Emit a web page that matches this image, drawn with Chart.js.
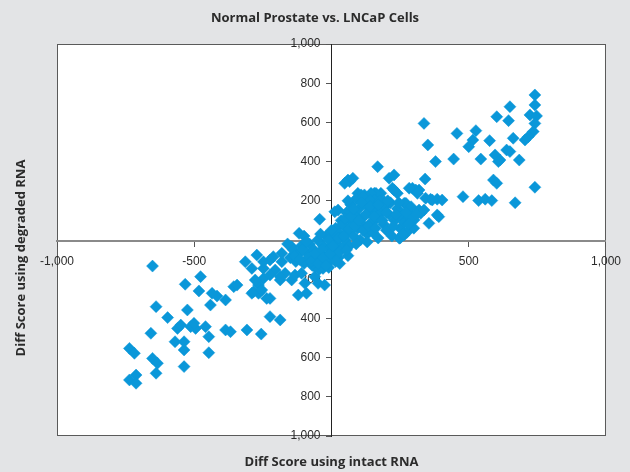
<!DOCTYPE html>
<html>
<head>
<meta charset="utf-8">
<script src="https://cdn.jsdelivr.net/npm/chart.js@4/dist/chart.umd.min.js"></script>
<style>
    html, body { margin: 0; padding: 0; background: #e3e4e6; }
    #wrap { width: 630px; height: 472px; }
</style>
</head>
<body>
<div id="wrap"><canvas id="chart" width="630" height="472"></canvas></div>
<script>
// Diff scores: intact RNA (x) vs degraded RNA (y)
const intactScores = [
    741, 741, 650, 602, 645, 723, 747, 741, 735, 717, 705, 337, 457, 526, 515, 500, 576, 662, 351, 379,
    445, 544, 596, 614, 638, 650, 608, 684, 590, 602, 741, 341, 295, 319, 361, 385, 403, 479, 536, 560,
    584, 669, 385,
    168, 66, 210, 228, 307, 283, 391, 355, 240, 265, 253, 283, 319, 325, 301, 192, 96, 132, 156, 180,
    222, 265, 247,
    60, 78, 120, 162, 228, 313, 343, 367, 271, 337, -43, 24, -118, 48, 12, 108, 144, 156,
    -272, -314, -290, -248, -224, -205, -181, -169, -187, -145, -133, -248, -266, -260, -290, -224, -121, -91, -97, -109,
    -61, -49, -25, -61, -31, -477, -435, -386, -356, -441,
    -652, -533, -483, -417, -344, -248, -212, -181, -145, -278, -266, -284, -254, -236, -224, -187,
    -224, -187, -639, -525, -597, -561, -549, -513, -495, -501, -459, -447, -386, -368, -308, -256, -658, -570, -537, -537,
    -447, -736, -718, -652, -634, -639, -537, -736, -712, -712,
    -150, -140, -130, -120, -110, -100, -95, -85, -80, -70, -65, -55, -50, -45, -40, -30, -25, -20, -15, -10,
    -5, 0, 5, 10, 15, 20, 25, 30, 35, 40, 45, 50, 55, 60, 65, 70, 75, 80, 85, 90,
    95, 100, 105, 110, 115, 120, 125, 130, 135, 140, 145, 150, 160, 165, 170, 175, 180, 190, 195, 200,
    210, 215, 220, 230, 240, 250, 255, 265, 275, 285, 290, -160, -100, 30, 60, 130, 250, 300, 310,
    -135, -115, -105, -90, -75, -60, -50, -35, -30, -20, -10, -5, 5, 10, 15, 25, 30, 40, 45, 50,
    55, 65, 70, 80, 85, 90, 100, 110, 115, 125, 135, 140, 155, 160, 170, 185, 200, 205, 225, 235,
    245, 260, 270, 280, 0, -40, 60
];
const degradedScores = [
    740, 689, 680, 629, 609, 638, 633, 595, 553, 527, 510, 595, 544, 558, 510, 476, 507, 519, 485, 400,
    413, 413, 434, 408, 459, 451, 400, 408, 306, 289, 269, 311, 264, 255, 208, 208, 204, 221, 201, 208,
    201, 190, 128,
    374, 298, 315, 332, 255, 264, 119, 85, 238, 187, 136, 144, 153, 136, 102, 196, 238, 213, 238, 238,
    264, 26, 9,
    306, 315, 230, 238, 255, 238, 213, 204, 187, 153, 106, 153, 34, 289, 144, 230, 238, 204,
    -77, -111, -145, -145, -102, -153, -111, -170, -204, -204, -179, -196, -230, -264, -272, -298, -281, -272, -221, -170,
    -187, -221, -230, -136, -145, -187, -272, -306, -238, -332,
    -133, -226, -260, -286, -230, -111, -85, -68, -34, -204, -272, -264, -255, -298, -179, -187,
    -391, -408, -340, -357, -396, -451, -434, -442, -451, -425, -442, -493, -459, -468, -459, -480, -476, -519, -519, -561,
    -575, -553, -578, -604, -629, -680, -646, -714, -689, -731,
    -90, -50, -110, -70, -30, -120, -60, -90, -20, -130, -50, -100, 0, -150, -70, -30, -110, 20, -80, -140,
    -40, -100, 10, -60, 60, -20, -90, 30, 100, -40, 70, 0, 140, 40, -30, 180, 90, 20, 130, 210,
    60, 160, 0, 110, 220, 70, 180, 30, 140, 200, 90, 40, 160, 110, 10, 200, 140, 80, 170, 50,
    130, 190, 20, 100, 160, 60, 120, 90, 40, 110, 170, -20, 20, -120, -80, -10, 10, 60, 130,
    -80, -100, -50, -10, -110, -70, -120, -50, -90, -130, 0, -70, -30, 40, -110, 10, -60, 80, 20, 110,
    -50, 60, 120, 160, 70, -20, 100, 190, 50, 130, 70, 170, 120, 60, 180, 100, 140, 200, 70, 130,
    190, 30, 140, 80, 50, 30, 200
];

const chartTitle = 'Normal Prostate vs. LNCaP Cells';
const xTitle = 'Diff Score using intact RNA';
const yTitle = 'Diff Score using degraded RNA';
const xTickStep = 500;
const yTickStep = 200;

const POINT_COLOR = '#0a97d9';
const BG = '#e3e4e6';
const TEXT = '#2b2b2b';

const points = intactScores.map((x, i) => ({ x, y: degradedScores[i] }));

// panel background, plot box and the three titles
const framePlugin = {
    id: 'frame',
    beforeDraw(chart) {
        const { ctx, chartArea: a, width, height } = chart;
        ctx.save();
        ctx.fillStyle = BG;
        ctx.fillRect(0, 0, width, height);
        ctx.fillStyle = '#fff';
        ctx.fillRect(a.left, a.top, a.right - a.left, a.bottom - a.top);
        ctx.strokeStyle = '#5a5a5a';
        ctx.lineWidth = 1;
        ctx.strokeRect(a.left + 0.5, a.top + 0.5, a.right - a.left - 1, a.bottom - a.top - 1);
        ctx.restore();
    },
    afterDraw(chart) {
        const { ctx, chartArea: a } = chart;
        ctx.save();
        ctx.fillStyle = TEXT;
        ctx.textAlign = 'center';
        ctx.textBaseline = 'middle';
        ctx.font = "bold 13px 'Open Sans', sans-serif";
        ctx.fillText(chartTitle, 315, 18);
        ctx.fillText(xTitle, (a.left + a.right) / 2, 462);
        ctx.translate(21, 258);
        ctx.rotate(-Math.PI / 2);
        ctx.fillText(yTitle, 0, 0);
        ctx.restore();
    }
};

new Chart(document.getElementById('chart'), {
    type: 'scatter',
    data: {
        datasets: [{
            data: points,
            pointStyle: 'rectRot',
            pointRadius: 6,
            pointHoverRadius: 6,
            borderWidth: 0.5,
            backgroundColor: POINT_COLOR,
            borderColor: POINT_COLOR,
        }],
    },
    options: {
        responsive: false,
        animation: false,
        layout: { padding: { left: 57, top: 44, right: 20, bottom: 36 } },
        plugins: { legend: { display: false }, tooltip: { enabled: false } },
        scales: {
            x: {
                type: 'linear',
                position: 'center',
                min: -1000,
                max: 1000,
                border: { color: '#8a8a8a', width: 2 },
                grid: { drawOnChartArea: false, drawTicks: true, tickLength: 5, color: '#555' },
                ticks: {
                    stepSize: xTickStep,
                    padding: 9,
                    color: TEXT,
                    font: { family: "'Liberation Sans', Arial, sans-serif", size: 12 },
                    callback: v => v === 0 ? '' : v.toLocaleString('en-US'),
                },
            },
            y: {
                type: 'linear',
                position: 'center',
                min: -1000,
                max: 1000,
                border: { color: '#222', width: 1 },
                grid: { drawOnChartArea: false, drawTicks: true, tickLength: 5, color: '#555' },
                ticks: {
                    stepSize: yTickStep,
                    padding: 6,
                    color: TEXT,
                    font: { family: "'Liberation Sans', Arial, sans-serif", size: 12 },
                    callback: v => v === 0 ? '' : Math.abs(v).toLocaleString('en-US'),
                },
            },
        },
    },
    plugins: [framePlugin],
});
</script>
</body>
</html>
